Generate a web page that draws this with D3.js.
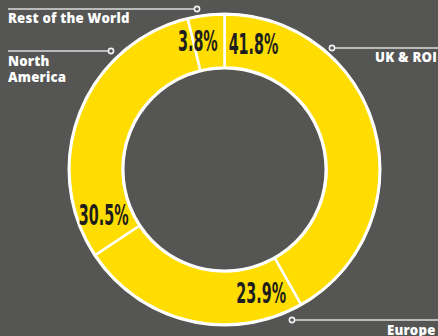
<!DOCTYPE html>
<html><head><meta charset="utf-8">
<script src="https://cdn.jsdelivr.net/npm/d3@7"></script>
<style>
html,body{margin:0;padding:0;background:#555554;}
svg{display:block;}
</style></head>
<body>
<svg id="c" width="438" height="336"></svg>
<script>
const categories = ["UK & ROI", "Europe", "North America", "Rest of the World"];
const values = [41.8, 23.9, 30.5, 3.8];
const valueLabels = ["41.8%", "23.9%", "30.5%", "3.8%"];

const W = 438, H = 336;
const cx = 224.5, cy = 169.5, rOuter = 155, rInner = 102;
const svg = d3.select("#c");
svg.append("rect").attr("width", W).attr("height", H).attr("fill", "#555554");

const g = svg.append("g").attr("transform", `translate(${cx},${cy})`);
const pie = d3.pie().sort(null).value(d => d)(values);
const arc = d3.arc().innerRadius(rInner).outerRadius(rOuter);

g.selectAll("path.s").data(pie).join("path")
  .attr("class", "s")
  .attr("d", arc)
  .attr("fill", "#FFDD00")
  .attr("stroke", "#ffffff")
  .attr("stroke-width", 2.5);

g.append("circle").attr("r", rOuter + 1).attr("fill", "none").attr("stroke", "#fff").attr("stroke-width", 2);
g.append("circle").attr("r", rInner - 1).attr("fill", "none").attr("stroke", "#fff").attr("stroke-width", 2);

const deg = Math.PI / 180;
const labelR = 129;
g.selectAll("text.v").data(pie).join("text")
  .attr("class", "v")
  .each(function(d) {
    const narrow = (d.endAngle - d.startAngle) < 20 * deg;
    const a = narrow ? d.endAngle - 3 * deg : d.startAngle + 13 * deg;
    const x = labelR * Math.sin(a), y = -labelR * Math.cos(a);
    d3.select(this)
      .attr("text-anchor", narrow ? "end" : "middle")
      .attr("transform", `translate(${x},${y}) scale(0.57,1)`);
  })
  .attr("dy", "0.36em")
  .attr("font-family", "'Liberation Sans Narrow', 'DejaVu Sans Condensed', sans-serif")
  .attr("font-weight", "bold")
  .attr("font-size", 28)
  .attr("fill", "#1e1e1e")
  .text((d, i) => valueLabels[i]);

const lineColor = "#dcdcdc";
const leaders = [
  {i: 0, x1: 332, x2: 438, y: 48, tx: 375, ty: [62]},
  {i: 1, x1: 292, x2: 438, y: 320, tx: 387, ty: [335]},
  {i: 2, x1: 111, x2: 8, y: 51, tx: 8, ty: [66, 82]},
  {i: 3, x1: 197, x2: 8, y: 9, tx: 8, ty: [23]}
];
const catLines = [["UK & ROI"], ["Europe"], ["North", "America"], ["Rest of the World"]];
leaders.forEach(L => {
  svg.append("line").attr("x1", L.x1).attr("x2", L.x2).attr("y1", L.y).attr("y2", L.y)
    .attr("stroke", lineColor).attr("stroke-width", 1.6);
  svg.append("circle").attr("cx", L.x1).attr("cy", L.y).attr("r", 2.6)
    .attr("fill", "#555554").attr("stroke", "#f2f2f2").attr("stroke-width", 1.6);
  catLines[L.i].forEach((t, k) => {
    svg.append("text").attr("x", L.tx).attr("y", L.ty[k])
      .attr("font-family", "'Open Sans', sans-serif").attr("font-weight", 800)
      .attr("font-size", 13.2).attr("letter-spacing", 0.2).attr("fill", "#ffffff")
      .text(t);
  });
});
</script>
</body></html>
